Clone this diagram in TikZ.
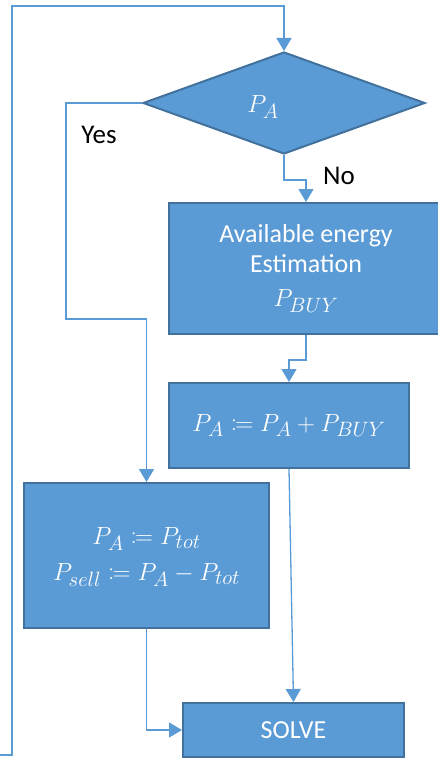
\documentclass[tikz,border=0pt]{standalone}
\usepackage{amsmath,mathtools}
\usepackage{fontspec}
\setmainfont{Carlito}
\usepackage{tikz}
\usetikzlibrary{arrows.meta,shapes.geometric}
\definecolor{boxblue}{HTML}{5B9BD5}
\definecolor{edgeblue}{HTML}{41719C}

\begin{document}
\begin{tikzpicture}[x=1pt,y=-1pt,
		blk/.style={draw=edgeblue, line width=2pt, fill=boxblue, text=white, inner sep=0pt, align=center},
		cond/.style={diamond, draw=edgeblue, line width=2pt, fill=boxblue, text=white, inner sep=0pt},
		conn/.style={draw=boxblue, line width=1.3pt, -{Triangle[length=13pt,width=15pt]}},
		tag/.style={font=\fontsize{27}{30}\selectfont}]
			\useasboundingbox (0,0) rectangle (438,762);
			% blocks
			\node[cond, minimum width=282, minimum height=102] (dec) at (284,103) {};
			\node[text=white, font=\fontsize{28}{30}\selectfont] (declabel) at (263,107) {$P_A$};
			\node[blk, minimum width=274, minimum height=131, font=\fontsize{26}{30}\selectfont] (est) at (306,268.5)
				{Available energy\\Estimation\\[4pt]{\fontsize{28}{30}\selectfont$P_{BUY}$}};
			\node[blk, minimum width=240, minimum height=85, font=\fontsize{28}{30}\selectfont] (add) at (289,425.5)
				{$P_A \coloneqq P_A + P_{BUY}$};
			\node[blk, minimum width=245, minimum height=145, font=\fontsize{28}{36}\selectfont] (sell) at (146.5,555.5)
				{\mbox{}\\[-16pt]$P_A \coloneqq P_{tot}$\\$P_{sell} \coloneqq P_A - P_{tot}$};
			\node[blk, minimum width=221, minimum height=54, font=\fontsize{26}{30}\selectfont] (solve) at (293.5,730) {SOLVE};
			% labels
			\node[tag] (yes) at (99,135) {Yes};
			\node[tag] (no) at (339,176) {No};
			% connectors
			\coordinate (loopin) at (0,755);
			\coordinate (looptop) at (12,6);
			\coordinate (yesbend) at (66,319);
			\draw[conn] (loopin) -| (looptop) -| (dec.north);
			\draw[conn] (dec.west) -| (yesbend) -| (sell.north);
			\draw[conn] (dec.south) -- ++(0,25) -| (est.north);
			\draw[conn] (est.south) -- ++(0,25) -| (add.north);
			\draw[conn] (add.south) -- (solve.north);
			\draw[conn] (sell.south) |- (solve.west);
		\end{tikzpicture}
\end{document}
